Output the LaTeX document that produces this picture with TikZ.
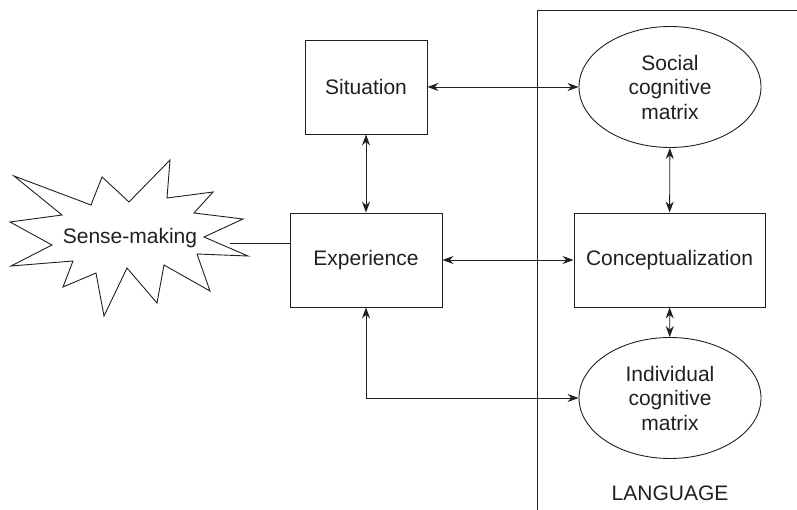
\documentclass[tikz,border=0pt]{standalone}
\usepackage{fontspec}
\setmainfont{Liberation Sans}
\usetikzlibrary{arrows.meta,shapes.geometric}
\definecolor{ink}{HTML}{231F20}
\begin{document}
\begin{tikzpicture}[x=1pt,y=-1pt,line width=0.9pt,draw=ink,text=ink,>={Stealth[length=11pt,width=8pt]},font=\fontsize{21}{24.5}\selectfont,
        box/.style={draw,rectangle,minimum height=94pt,inner sep=0pt},
        cogmatrix/.style={draw,ellipse,minimum width=182pt,minimum height=121pt,inner sep=0pt,align=center}]
        \useasboundingbox (0,0) rectangle (797,510);

        % language side
        \draw (537,510)--(537,10)--(797,10);
        \node (lang) at (670,493) {LANGUAGE};

        % sense-making burst
        \draw (14,176)--(91,205)--(102,177)--(129,202)--(170,160)--(167,198)--(213,192)--(194,213)--(243,219)--(204,237)
              --(248,256)--(197,254)--(210,291)--(164,265)--(157,303)--(127,268)--(104,316)--(96,273)--(63,287)--(73,261)
              --(11,266)--(52,245)--(10,222)--(62,215)--cycle;
        \node (sense) at (130,238) {Sense-making};
        \coordinate (burst) at (230,243);

        \node[box,minimum width=122pt] (sit) at (366,87) {Situation};
        \node[box,minimum width=152pt] (exp) at (366,260) {Experience};
        \node[box,minimum width=191pt] (con) at (669.5,260) {Conceptualization};
        \node[cogmatrix] (soc) at (670,87) {Social\\cognitive\\matrix};
        \node[cogmatrix] (ind) at (670,398) {Individual\\cognitive\\matrix};

        \draw (burst)--(exp.west |- burst);
        \draw[<->] (sit)--(soc);
        \draw[<->] (sit)--(exp);
        \draw[<->] (exp)--(con);
        \draw[<->] (soc)--(con);
        \draw[<->] (con)--(ind);
        \draw[<->] (exp.south) |- (ind.west);
\end{tikzpicture}
\end{document}
